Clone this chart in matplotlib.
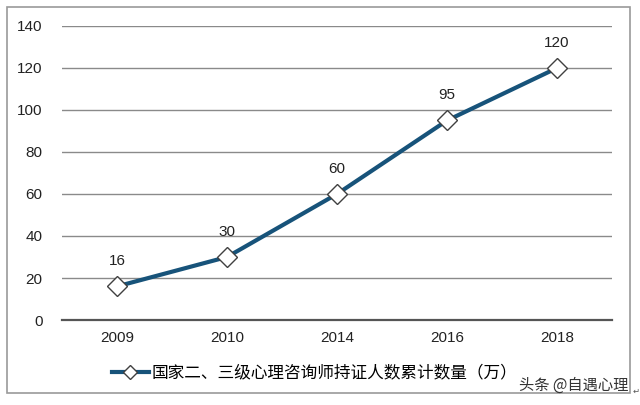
import matplotlib
matplotlib.use("Agg")
import matplotlib.pyplot as plt
from matplotlib.patches import Rectangle
from matplotlib.lines import Line2D

years = ["2009", "2010", "2014", "2016", "2018"]
values = [16, 30, 60, 95, 120]
series_name = "国家二、三级心理咨询师持证人数累计数量（万）"
yticks = [0, 20, 40, 60, 80, 100, 120, 140]
watermark = "头条 @自遇心理"

plt.rcParams['font.family'] = ['Liberation Sans', 'Noto Sans CJK SC', 'DejaVu Sans']

fig = plt.figure(figsize=(6.4, 4.05), dpi=100)
fig.patch.set_facecolor('white')

# outer frame
fig.patches.append(Rectangle((7/640, 1-393/405), (630-7)/640, (393-7)/405,
                             transform=fig.transFigure, fill=False,
                             edgecolor='#9a9a9a', linewidth=1.2))

ax = fig.add_axes([62/640, 1-320/405, (612-62)/640, (320-26)/405])
x = list(range(len(years)))
line_color = '#17537a'
ax.plot(x, values, color=line_color, linewidth=3, zorder=3,
        marker='D', markersize=10.5, markerfacecolor='white',
        markeredgecolor='#404040', markeredgewidth=1.0)

for xi, v in zip(x, values):
    ax.annotate(str(v), (xi, v), xytext=(0, 13), textcoords='offset points',
                ha='center', va='bottom', fontsize=11, color='#222222')

ax.set_xlim(-0.5, len(years) - 0.5)
ax.set_ylim(0, 140)
ax.set_yticks(yticks)
ax.set_xticks(x)
ax.set_xticklabels(years)
ax.tick_params(axis='both', length=0, labelsize=11, colors='#222222')
ax.tick_params(axis='y', pad=14)
ax.tick_params(axis='x', pad=8)
ax.grid(axis='y', color='#8a8a8a', linewidth=1.0)
ax.set_axisbelow(True)
for s in ['top', 'right', 'left']:
    ax.spines[s].set_visible(False)
ax.spines['bottom'].set_color('#555555')
ax.spines['bottom'].set_linewidth(1.6)

handle = Line2D([], [], color=line_color, linewidth=3, marker='D', markersize=7,
                markerfacecolor='white', markeredgecolor='#404040', markeredgewidth=1.0)
leg = fig.legend([handle], [series_name], loc='center left',
                 bbox_to_anchor=(97/640, 1-373/405), frameon=False,
                 handlelength=2.2, handletextpad=0.15,
                 prop={'family': ['Noto Sans CJK SC', 'DejaVu Sans'], 'size': 12})

fig.text(628/640, 1-385/405, watermark, ha='right', va='center',
         fontsize=11, color='#333333', family=['Noto Sans CJK SC', 'DejaVu Sans'])
fig.text(636/640, 1-391/405, "↵", ha='center', va='center',
         fontsize=6, color='#555555', family=['DejaVu Sans'])

fig.savefig('out.png', dpi=100, facecolor='white')
